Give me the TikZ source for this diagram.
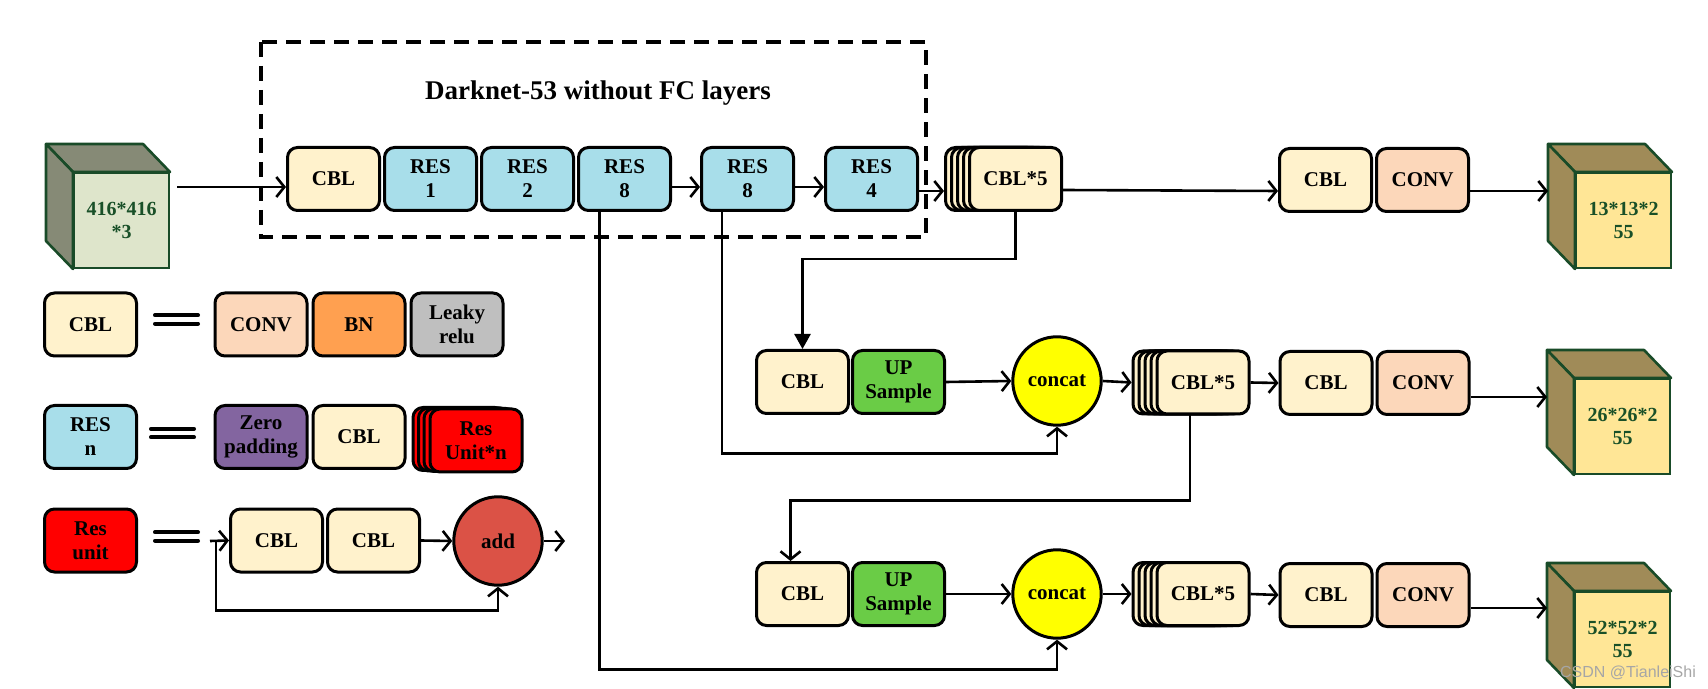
\documentclass[tikz,border=0pt]{standalone}
\usepackage{fontspec}
\setmainfont{Liberation Serif}
\setsansfont{Liberation Sans}
\usetikzlibrary{arrows.meta, positioning, calc}
\definecolor{cblfill}{RGB}{255,242,204}
\definecolor{resfill}{RGB}{168,222,234}
\definecolor{convfill}{RGB}{252,215,186}
\definecolor{bnfill}{RGB}{255,160,80}
\definecolor{lrfill}{RGB}{191,191,191}
\definecolor{zpfill}{RGB}{131,101,160}
\definecolor{rufill}{RGB}{255,0,0}
\definecolor{upfill}{RGB}{106,204,70}
\definecolor{catfill}{RGB}{255,255,0}
\definecolor{addfill}{RGB}{219,82,70}
\definecolor{incube}{RGB}{222,229,203}
\definecolor{inside}{RGB}{134,138,118}
\definecolor{outcube}{RGB}{255,230,150}
\definecolor{outside}{RGB}{160,139,88}
\definecolor{cubeline}{RGB}{25,75,40}
\definecolor{cubetext}{RGB}{25,80,40}
% feature map cube: name, front left, front top, front colour, side colour, text
\newcommand{\featcube}[6]{%
  \filldraw[fill=#5, draw=cubeline, line width=1.3pt, line join=round]
    (#2,#3) -- ++(-27,-28) -- ++(97,0) -- ++(27,28) -- cycle;
  \filldraw[fill=#5, draw=cubeline, line width=1.3pt, line join=round]
    (#2,#3) -- ++(-27,-28) -- ++(0,97) -- ++(27,28) -- cycle;
  \coordinate (#1-bk) at (#2-27,#3-28);
  \node[draw=cubeline, fill=#4, line width=1.3pt, minimum width=47.5pt, minimum height=47.5pt,
    inner sep=0pt, align=center, text=cubetext, font=\bfseries\fontsize{10}{11.5}\selectfont]
    (#1) at (#2+48.5,#3+48.5) {#6};%
}

\begin{document}
\begin{tikzpicture}[x=0.5pt, y=-0.5pt,
  blk/.style={draw, line width=1.5pt, rounded corners=5pt, minimum width=46pt, minimum height=31.5pt,
    inner sep=1pt, align=center, font=\bfseries\fontsize{10.5}{12}\selectfont},
  cblbox/.style={blk, fill=cblfill},
  resbox/.style={blk, fill=resfill},
  convbox/.style={blk, fill=convfill},
  bnbox/.style={blk, fill=bnfill},
  lrbox/.style={blk, fill=lrfill},
  zpbox/.style={blk, fill=zpfill},
  rubox/.style={blk, fill=rufill},
  upbox/.style={blk, fill=upfill},
  ball/.style={circle, draw, line width=1.5pt, minimum size=44.2pt, inner sep=0pt,
    font=\bfseries\fontsize{10.5}{12}\selectfont},
  arr/.style={line width=1.3pt, -{Straight Barb[length=4pt,width=10pt]}},
  farr/.style={line width=1.3pt, -{Triangle[length=7.5pt,width=8pt]}},
  eqbar/.style={line width=2pt, line cap=round}]
  \useasboundingbox (0,0) rectangle (1708,689);

  % backbone
  \featcube{ic}{73}{172}{incube}{inside}{416*416\\{}*3}
  \draw[line width=1.6pt, dash pattern=on 7.5pt off 4.5pt] (261,42) rectangle (926,237);
  \node[font=\bfseries\fontsize{13.5}{15}\selectfont] (title) at (598,93) {Darknet-53 without FC layers};
  \node[cblbox] (cbl0) at (333.5,179) {CBL};
  \node[resbox, right=1pt of cbl0] (res1) {RES\\1};
  \node[resbox, right=1pt of res1] (res2) {RES\\2};
  \node[resbox, right=1pt of res2] (r8a) {RES\\8};
  \node[resbox] (r8b) at (747.5,179) {RES\\8};
  \node[resbox] (r4) at (871.5,179) {RES\\4};
  \foreach \d [count=\i] in {24,18,12,6}
    \node[cblbox] (s1-\i) at (1015.5-\d,179) {};
  \node[cblbox] (s1) at (1015.5,179) {CBL*5};
  \node[cblbox] (cblo1) at (1325.5,180) {CBL};
  \node[convbox, right=1pt of cblo1] (convo1) {CONV};
  \featcube{oc1}{1575}{172}{outcube}{outside}{13*13*2\\55}

  \draw[arr] ($(ic.east |- cbl0.west)+(7,8)$) -- ([yshift=-4pt]cbl0.west);
  \draw[arr] ([yshift=-4pt]r8a.east) -- ([yshift=-4pt]r8b.west);
  \draw[arr] ([yshift=-4pt]r8b.east) -- ([yshift=-4pt]r4.west);
  \draw[arr] ([yshift=-6pt]r4.east) -- ([yshift=-6pt]s1-1.west);
  \draw[arr] ([yshift=-5.5pt]s1.east) -- ([yshift=-5.5pt]cblo1.west);
  \draw[arr] ([yshift=-5.5pt]convo1.east) -- ([yshift=-5.5pt]convo1.east -| oc1-bk);

  % second scale
  \node[cblbox] (cbl2) at (802.5,382) {CBL};
  \node[upbox, right=0.5pt of cbl2] (ups2) {UP\\Sample};
  \node[ball, fill=catfill] (cat2) at (1057,381) {concat};
  \foreach \d [count=\i] in {24,18,12,6}
    \node[cblbox] (s2-\i) at (1203-\d,382.5) {};
  \node[cblbox] (s2) at (1203,382.5) {CBL*5};
  \node[cblbox] (cblo2) at (1326,383) {CBL};
  \node[convbox, right=1pt of cblo2] (convo2) {CONV};
  \featcube{oc2}{1574}{378}{outcube}{outside}{26*26*2\\55}

  \draw[arr] (ups2.east) -- (cat2.west);
  \draw[arr] (cat2.east) -- (s2-1.west);
  \draw[arr] (s2.east) -- (cblo2.west);
  \draw[arr] ([yshift=-7pt]convo2.east) -- ([yshift=-7pt]convo2.east -| oc2-bk);

  % third scale
  \node[cblbox] (cbl3) at (802.5,594) {CBL};
  \node[upbox, right=0.5pt of cbl3] (ups3) {UP\\Sample};
  \node[ball, fill=catfill] (cat3) at (1057,594) {concat};
  \foreach \d [count=\i] in {24,18,12,6}
    \node[cblbox] (s3-\i) at (1203-\d,594) {};
  \node[cblbox] (s3) at (1203,594) {CBL*5};
  \node[cblbox] (cblo3) at (1326,595) {CBL};
  \node[convbox, right=1pt of cblo3] (convo3) {CONV};
  \featcube{oc3}{1574}{591}{outcube}{outside}{52*52*2\\55}

  \draw[arr] (ups3.east) -- (cat3.west);
  \draw[arr] (cat3.east) -- (s3-1.west);
  \draw[arr] (s3.east) -- (cblo3.west);
  \draw[arr] ([yshift=-6.5pt]convo3.east) -- ([yshift=-6.5pt]convo3.east -| oc3-bk);

  % links between scales
  \draw[farr] (s1.south) -- ++(0,47) -| (cbl2.north);
  \draw[arr] ([xshift=-6.5pt]s2.south) -- ++(0,85) -| ([xshift=-6pt]cbl3.north);
  \draw[arr] ([xshift=-12.75pt]r8b.south) |- ([yshift=-13.5pt]cat2.south) -- (cat2.south);
  \draw[arr] ([xshift=-12.5pt]r8a.south) |- ([yshift=-15pt]cat3.south) -- (cat3.south);

  % legend
  \foreach \xa/\yy in {153/319.5, 149/433, 153/536.5} {
    \draw[eqbar] (\xa+2,\yy-4.2) -- (\xa+45,\yy-4.2);
    \draw[eqbar] (\xa+2,\yy+4.2) -- (\xa+45,\yy+4.2);
  }
  \node[cblbox] (lgcbl) at (90.5,324.5) {CBL};
  \node[convbox] (lgconv) at (261,324.5) {CONV};
  \node[bnbox, right=1.5pt of lgconv] (lgbn) {BN};
  \node[lrbox, right=1.5pt of lgbn] (lglr) {Leaky\\relu};

  \node[resbox] (lgres) at (90.5,437) {RES\\n};
  \node[zpbox] (lgzp) at (261,437) {Zero\\padding};
  \node[cblbox, right=1.5pt of lgzp] (lgcblb) {CBL};
  \foreach \dx/\dy [count=\i] in {17/1.5, 11.5/1, 6/0.5}
    \node[rubox] (lgru-\i) at (476-\dx,440.5-\dy) {};
  \node[rubox] (lgru) at (476,440.5) {Res\\Unit*n};

  \node[rubox] (lgresu) at (90.5,540.5) {Res\\unit};
  \coordinate (ruin) at (210,541);
  \coordinate (rusplit) at (216,541);
  \node[cblbox] (lgc1) at (276.5,540.5) {CBL};
  \node[cblbox, right=1pt of lgc1] (lgc2) {CBL};
  \node[ball, fill=addfill] (add) at (498,541) {add};
  \coordinate (ruout) at (565,541);
  \draw[arr] (ruin) -- (lgc1.west);
  \draw[arr] (lgc2.east) -- (add.west);
  \draw[arr] (add.east) -- (ruout);
  \draw[arr] (rusplit) |- ([yshift=-12pt]add.south) -- (add.south);

  \node[font=\sffamily\fontsize{8}{9}\selectfont, text=gray!70] (mark) at (1628,673) {CSDN @TianleiShi};
\end{tikzpicture}
\end{document}
